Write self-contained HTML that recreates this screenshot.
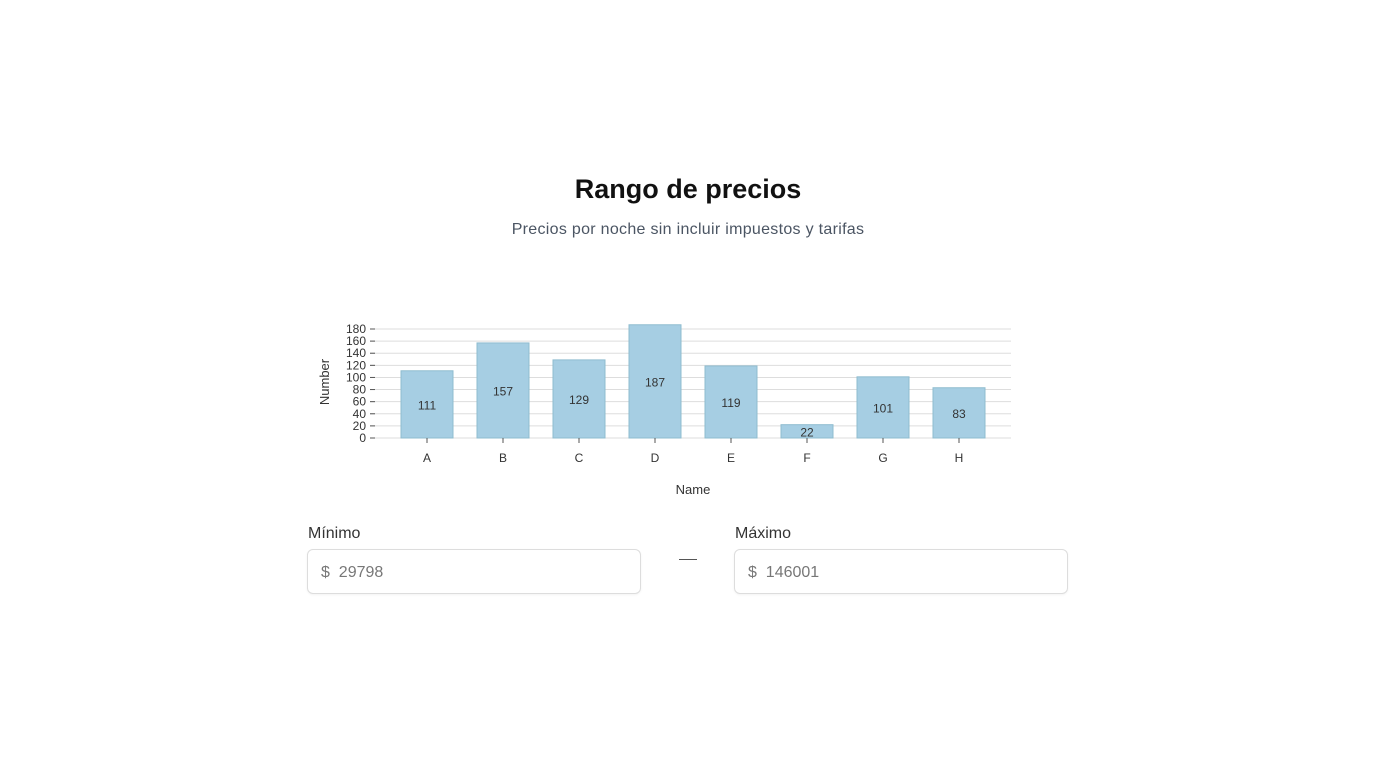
<!DOCTYPE html>
<html><head><meta charset="utf-8"><style>
body{margin:0;width:1376px;height:768px;background:#fff;font-family:"Liberation Sans",sans-serif;position:relative;overflow:hidden}
h1{position:absolute;top:174px;left:0;width:1376px;text-align:center;margin:0;font-size:27px;font-weight:bold;color:#111}
.sub{position:absolute;top:221px;left:0;width:1376px;text-align:center;font-size:16px;color:#4b5563;letter-spacing:0.3px}
.lbl{position:absolute;top:525px;font-size:16px;color:#333}
.inp{position:absolute;top:549px;width:334px;height:45px;border:1px solid #ddd;border-radius:6px;box-sizing:border-box;box-shadow:0 1px 2px rgba(0,0,0,.05);font-size:16px;color:#777;line-height:45px;padding-left:13px}
.dash{position:absolute;top:559px;left:679px;width:18px;height:1px;background:#555}
</style></head><body>
<h1>Rango de precios</h1>
<div class="sub">Precios por noche sin incluir impuestos y tarifas</div>
<svg id="chart" width="1376" height="768" style="position:absolute;left:0;top:0" font-family="Liberation Sans, sans-serif"></svg>
<div class="lbl" style="left:308px">Mínimo</div>
<div class="inp" style="left:307px">$&nbsp;&nbsp;29798</div>
<div class="dash"></div>
<div class="lbl" style="left:735px">Máximo</div>
<div class="inp" style="left:734px">$&nbsp;&nbsp;146001</div>
<script>
const categories=["A","B","C","D","E","F","G","H"];
const values=[111,157,129,187,119,22,101,83];
const yTicks=[0,20,40,60,80,100,120,140,160,180];
const svg=document.getElementById('chart');
const NS="http://www.w3.org/2000/svg";
const y0=438,pxPer=109/180;
const y=v=>y0-v*pxPer;
const x=i=>427+i*76;
function mk(t,a,txt){const e=document.createElementNS(NS,t);for(const k in a)e.setAttribute(k,a[k]);if(txt!==undefined)e.textContent=txt;svg.appendChild(e);return e;}
yTicks.forEach(t=>{
 const g=mk('line',{x1:370,x2:1011,y1:y(t),y2:y(t),stroke:'#ddd','stroke-width':1});
 
 
 mk('line',{x1:370,x2:375,y1:y(t),y2:y(t),stroke:'#555'});
 const l=mk('text',{x:366,y:y(t)+4,'text-anchor':'end','font-size':12,fill:'#333'},t);
 
 
});
categories.forEach((c,i)=>{
 const v=values[i];
 const b=mk('rect',{x:x(i)-26,y:y(v),width:52,height:y0-y(v),fill:'#a6cee3',stroke:'#8fbccf','stroke-width':1});
 
 
 const t=mk('text',{x:x(i),y:(y(v)+y0)/2+5,'text-anchor':'middle','font-size':12,fill:'#333'},v);
 
 
 mk('line',{x1:x(i),x2:x(i),y1:y0,y2:y0+5,stroke:'#555'});
 const xl=mk('text',{x:x(i),y:462,'text-anchor':'middle','font-size':12,fill:'#333'},c);
 
 
});
const xt=mk('text',{x:693,y:494,'text-anchor':'middle','font-size':13,fill:'#333'},'Name');


const yt=mk('text',{x:0,y:0,'text-anchor':'middle','font-size':13,fill:'#333',transform:'translate(329,382) rotate(-90)'},'Number');


</script>
</body></html>
